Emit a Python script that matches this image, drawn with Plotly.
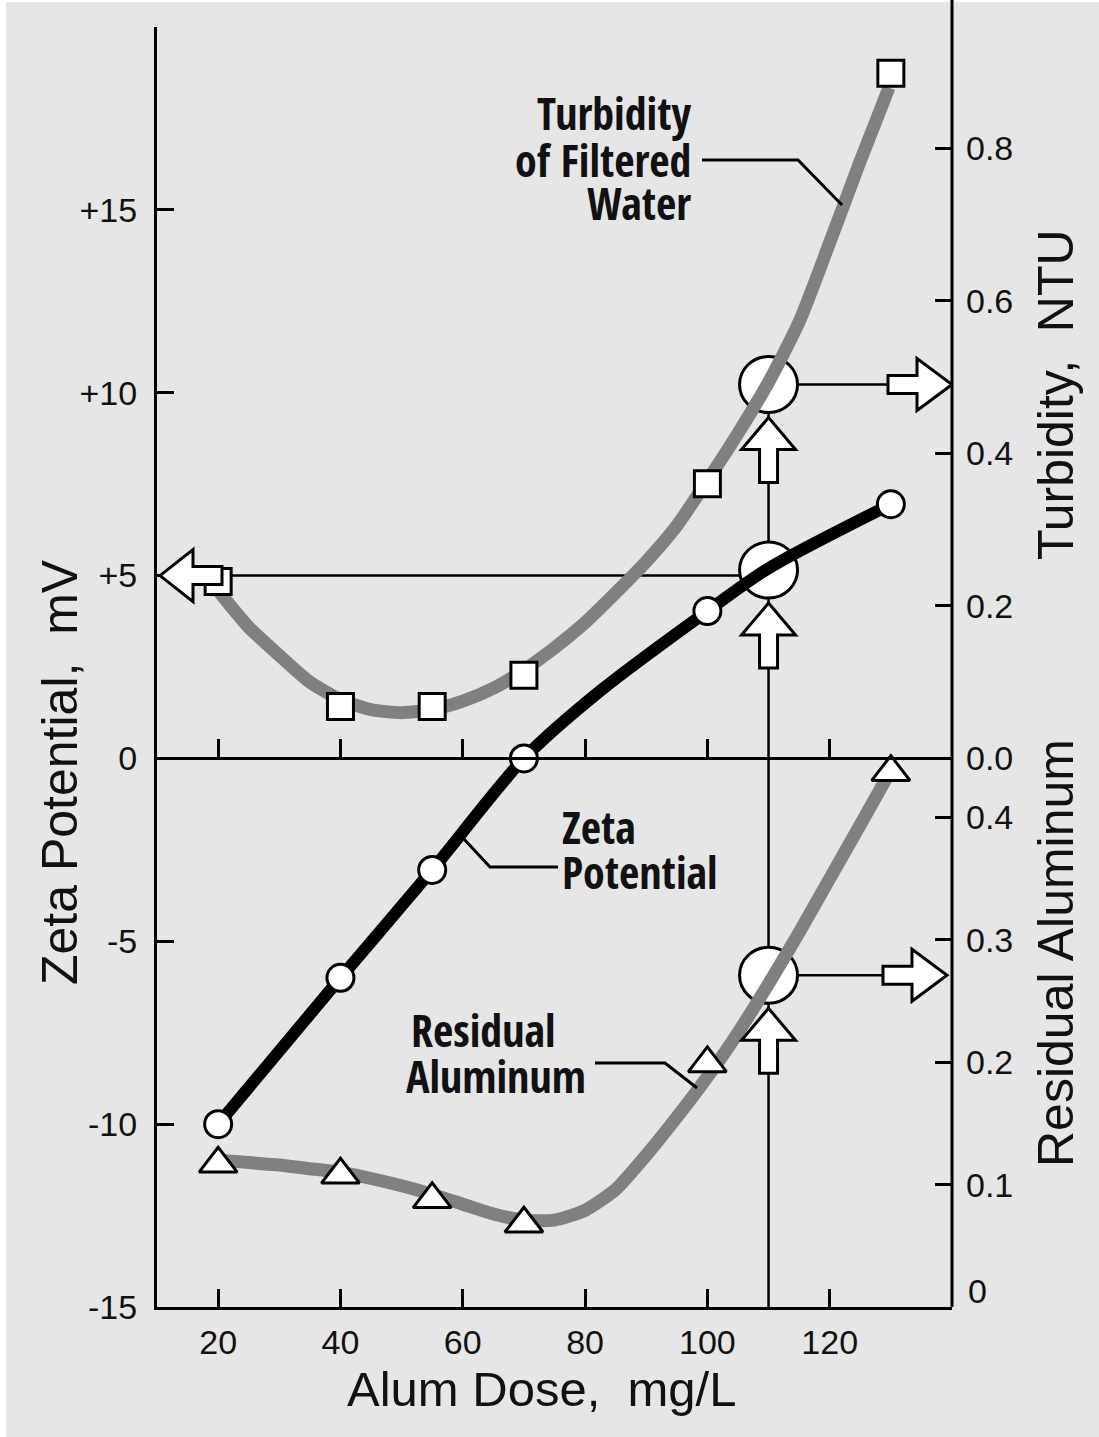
import plotly.graph_objects as go

# ---------------- data ----------------
dose_pts = [20, 40, 55, 70, 100, 130]                  # Alum dose, mg/L
zeta_pts = [-10.0, -6.0, -3.05, 0.0, 4.03, 6.95]       # Zeta potential, mV
turb_pts = [0.232, 0.068, 0.068, 0.109, 0.36, 0.898]   # Turbidity, NTU
alum_pts = [0.117, 0.108, 0.088, 0.068, 0.199, 0.437]  # Residual aluminum

# smooth fitted curves as drawn in the figure
zeta_curve_x = [20, 40, 55, 70, 82.5, 100, 110, 130]
zeta_curve_y = [-10.0, -6.0, -3.05, 0.0, 1.85, 4.03, 5.2, 6.95]

turb_curve_x = [20, 25, 30, 35, 40, 45, 50, 55, 60, 65, 70, 75, 80, 85, 90, 95,
                100, 105, 110, 115, 120, 125, 129.7]
turb_curve_y = [0.220, 0.172, 0.135, 0.100, 0.077, 0.064, 0.060, 0.064, 0.075, 0.092,
                0.116, 0.145, 0.178, 0.217, 0.258, 0.305, 0.364, 0.426, 0.493, 0.572,
                0.676, 0.783, 0.879]

alum_curve_x = [20, 25, 30, 35, 40, 45, 50, 55, 60, 65, 70, 75, 80, 85, 90, 95,
                100, 105, 110, 115, 120, 125, 129.5]
alum_curve_y = [0.120, 0.118, 0.116, 0.113, 0.110, 0.105, 0.099, 0.092, 0.084, 0.076,
                0.071, 0.071, 0.079, 0.096, 0.124, 0.155, 0.188, 0.224, 0.264, 0.306,
                0.350, 0.394, 0.434]

# read-out at the chosen dose
read_dose = 110
read_turb = 0.49
read_zeta = 5.15
read_zeta_line = 5.0
read_alum = 0.271

x_ticks = [20, 40, 60, 80, 100, 120]
zeta_ticks = [-15, -10, -5, 0, 5, 10, 15, 20]
zeta_ticktext = ["-15", "-10", "-5", "0", "+5", "+10", "+15", ""]
turb_ticks = [0.0, 0.2, 0.4, 0.6, 0.8]
turb_ticktext = ["0.0", "0.2", "0.4", "0.6", "0.8"]
alum_ticks = [0.1, 0.2, 0.3, 0.4]
alum_ticktext = ["0.1", "0.2", "0.3", "0.4"]

# ---------------- axis scales ----------------
X_RANGE = [10, 140]
ZETA_RANGE = [-15, 20]
K_TURB = 0.04793                      # NTU per mV on the shared vertical scale
TURB_RANGE = [ZETA_RANGE[0] * K_TURB, ZETA_RANGE[1] * K_TURB]
ALUM_RANGE = [0, 1.0458]

W, H = 1099, 1437
L, R, T, B = 157, 952, 27, 1307


def px(xp):
    return (xp - L) / (R - L)


def py(yp):
    return (B - yp) / (B - T)


NARROW = ("Noto Sans Condensed, Open Sans Condensed, Liberation Sans Narrow, "
          "Arial Narrow, DejaVu Sans Condensed, sans-serif")
REG = "Liberation Sans, Arial, Helvetica, sans-serif"
BLACK = "#000000"
GRAY = "#808080"
TXT = "#111111"

fig = go.Figure()

fig.add_trace(go.Scatter(x=turb_curve_x, y=turb_curve_y, yaxis="y2", mode="lines",
                         line=dict(color=GRAY, width=13, shape="spline", smoothing=0.6),
                         hoverinfo="skip", showlegend=False))
fig.add_trace(go.Scatter(x=alum_curve_x, y=alum_curve_y, yaxis="y3", mode="lines",
                         line=dict(color=GRAY, width=13, shape="spline", smoothing=0.6),
                         hoverinfo="skip", showlegend=False))
fig.add_trace(go.Scatter(x=zeta_curve_x, y=zeta_curve_y, yaxis="y", mode="lines",
                         line=dict(color=BLACK, width=12, shape="spline", smoothing=0.8),
                         hoverinfo="skip", showlegend=False))

fig.add_trace(go.Scatter(x=dose_pts, y=turb_pts, yaxis="y2", mode="markers",
                         marker=dict(symbol="square", size=26, color="white",
                                     line=dict(color=BLACK, width=3)),
                         showlegend=False))
fig.add_trace(go.Scatter(x=dose_pts, y=alum_pts, yaxis="y3", mode="markers",
                         marker=dict(symbol="triangle-up", size=33, color="white",
                                     line=dict(color=BLACK, width=3)),
                         showlegend=False))
fig.add_trace(go.Scatter(x=dose_pts, y=zeta_pts, yaxis="y", mode="markers",
                         marker=dict(symbol="circle", size=27, color="white",
                                     line=dict(color=BLACK, width=3)),
                         showlegend=False))
# empty trace to carry the zero-line axis
fig.add_trace(go.Scatter(x=[], y=[], xaxis="x2", yaxis="y", showlegend=False))

shapes = []
# background with thin white border at left/top
shapes.append(dict(type="rect", xref="paper", yref="paper", layer="below",
                   x0=px(6), x1=px(W + 5), y0=py(H + 5), y1=py(2),
                   fillcolor="#e6e6e6", line=dict(width=0)))
# right axis line extending to the top
shapes.append(dict(type="line", xref="paper", yref="paper", x0=1, x1=1,
                   y0=0, y1=py(-2), line=dict(color=BLACK, width=3)))

# read-out lines
shapes.append(dict(type="line", xref="x", yref="y2", layer="below",
                   x0=read_dose, x1=read_dose, y0=TURB_RANGE[0], y1=read_turb,
                   line=dict(color=BLACK, width=2.5)))
shapes.append(dict(type="line", xref="x", yref="y", layer="below",
                   x0=X_RANGE[0] + 10, x1=read_dose, y0=read_zeta_line, y1=read_zeta_line,
                   line=dict(color=BLACK, width=2.5)))
shapes.append(dict(type="line", xref="x", yref="y2", layer="below",
                   x0=read_dose, x1=X_RANGE[1] - 5, y0=read_turb, y1=read_turb,
                   line=dict(color=BLACK, width=2.5)))
shapes.append(dict(type="line", xref="x", yref="y3", layer="below",
                   x0=read_dose, x1=X_RANGE[1] - 5, y0=read_alum, y1=read_alum,
                   line=dict(color=BLACK, width=2.5)))

# big open circles at the read-out points
for yref, yv in (("y2", read_turb), ("y", read_zeta), ("y3", read_alum)):
    shapes.append(dict(type="circle", xref="x", yref=yref, layer="below",
                       xsizemode="pixel", ysizemode="pixel",
                       xanchor=read_dose, yanchor=yv, x0=-29, x1=29, y0=-28, y1=28,
                       fillcolor="white", line=dict(color=BLACK, width=3)))


def up_arrow(t):
    b = t - 32
    e = t - 65
    return (f"M0,{t} L-27,{b} L-9,{b} L-9,{e} L9,{e} L9,{b} L27,{b} Z")


def right_arrow(tip):
    b = tip - 35
    e = tip - 64
    return (f"M{tip},0 L{b},26 L{b},9 L{e},9 L{e},-9 L{b},-9 L{b},-26 Z")


def left_arrow(tip):
    b = tip + 33
    e = tip + 62
    return (f"M{tip},0 L{b},26 L{b},9 L{e},9 L{e},-9 L{b},-9 L{b},-26 Z")


arrow_style = dict(fillcolor="white", line=dict(color=BLACK, width=3), layer="above",
                   xsizemode="pixel", ysizemode="pixel", type="path")
for yref, yv in (("y2", read_turb), ("y", read_zeta), ("y3", read_alum)):
    shapes.append(dict(xref="x", yref=yref, xanchor=read_dose, yanchor=yv,
                       path=up_arrow(-33), **arrow_style))
shapes.append(dict(xref="x", yref="y2", xanchor=X_RANGE[1], yanchor=read_turb,
                   path=right_arrow(0), **arrow_style))
shapes.append(dict(xref="x", yref="y3", xanchor=X_RANGE[1], yanchor=read_alum,
                   path=right_arrow(-5), **arrow_style))
shapes.append(dict(xref="x", yref="y", xanchor=X_RANGE[0], yanchor=read_zeta_line,
                   path=left_arrow(3), **arrow_style))

# leader lines for the curve labels
for pts in ([(702, 160), (798, 160), (842, 205)],
            [(558, 867), (490, 867), (463, 838)],
            [(595, 1063), (665, 1063), (697, 1088)]):
    path = "M" + " L".join(f"{px(a):.5f},{py(b):.5f}" for a, b in pts)
    shapes.append(dict(type="path", xref="paper", yref="paper", path=path,
                       line=dict(color=BLACK, width=3), layer="above"))

annotations = []


def ann(text, xp, yp, xanchor, size, family, bold=False, angle=0):
    t = f"<b>{text}</b>" if bold else text
    font = dict(family=family, size=size, color=TXT)
    annotations.append(dict(text=t, x=px(xp), y=py(yp), xref="paper", yref="paper",
                            xanchor=xanchor, yanchor="middle", showarrow=False,
                            textangle=angle, font=font))


ann("Turbidity", 693, 113, "right", 44, NARROW, True)
ann("of Filtered", 693, 160, "right", 44, NARROW, True)
ann("Water", 693, 203, "right", 44, NARROW, True)
ann("Zeta", 560, 827, "left", 44, NARROW, True)
ann("Potential", 560, 872, "left", 44, NARROW, True)
ann("Residual", 409, 1030, "left", 44, NARROW, True)
ann("Aluminum", 404, 1076, "left", 44, NARROW, True)

ann("Zeta Potential,  mV", 60, 772, "center", 50, REG, False, -90)
ann("Alum Dose,  mg/L", 541, 1389, "center", 49, REG)
ann("Turbidity,  NTU", 1056, 395, "center", 50, REG, False, -90)
ann("Residual Aluminum", 1056, 953, "center", 50, REG, False, -90)
ann("0", 966, 1291, "left", 34, REG)

tickfont = dict(family=REG, size=34, color=TXT)
common_y = dict(ticks="inside", ticklen=17, tickwidth=3, tickcolor=BLACK,
                showgrid=False, zeroline=False, tickfont=tickfont)

fig.update_layout(
    width=W, height=H,
    margin=dict(l=L, r=W - R, t=T, b=H - B, pad=0),
    paper_bgcolor="white", plot_bgcolor="rgba(0,0,0,0)",
    showlegend=False,
    xaxis=dict(range=X_RANGE, tickvals=x_ticks, ticks="inside", ticklen=18,
               tickwidth=3, tickcolor=BLACK, showline=True, linewidth=3,
               linecolor=BLACK, showgrid=False, zeroline=False, tickfont=tickfont,
               ticklabelstandoff=3),
    xaxis2=dict(range=X_RANGE, tickvals=x_ticks, overlaying="x", anchor="free",
                position=(0 - ZETA_RANGE[0]) / (ZETA_RANGE[1] - ZETA_RANGE[0]),
                side="bottom", ticks="inside", ticklen=18, tickwidth=3,
                tickcolor=BLACK, showline=True, linewidth=3, linecolor=BLACK,
                showticklabels=False, showgrid=False, zeroline=False),
    yaxis=dict(range=ZETA_RANGE, tickvals=zeta_ticks, ticktext=zeta_ticktext,
               showline=True, linewidth=3, linecolor=BLACK, ticklabelstandoff=10,
               **common_y),
    yaxis2=dict(range=TURB_RANGE, tickvals=turb_ticks, ticktext=turb_ticktext,
                overlaying="y", side="right", showline=False, ticklabelstandoff=13,
                **common_y),
    yaxis3=dict(range=ALUM_RANGE, tickvals=alum_ticks, ticktext=alum_ticktext,
                overlaying="y", side="right", showline=False, ticklabelstandoff=13,
                **common_y),
    shapes=shapes,
    annotations=annotations,
)

fig.write_html("out.html", config={"displayModeBar": False},
               post_script="document.body.style.margin='0';")
